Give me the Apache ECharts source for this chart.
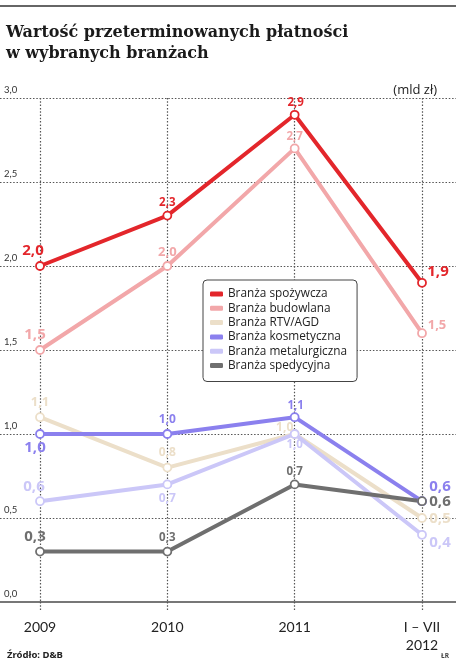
<!DOCTYPE html>
<html><head><meta charset="utf-8">
<script src="https://cdn.jsdelivr.net/npm/echarts@6/dist/echarts.min.js"></script>
<style>html,body{margin:0;padding:0;background:#fff}#c{width:456px;height:668px}</style>
</head><body><div id="c"></div>
<script>
const categories = ['2009', '2010', '2011', 'I – VII\n2012'];
const seriesNames = ['Branża spożywcza', 'Branża budowlana', 'Branża RTV/AGD', 'Branża kosmetyczna', 'Branża metalurgiczna', 'Branża spedycyjna'];
const spozywcza = [2.0, 2.3, 2.9, 1.9];
const budowlana = [1.5, 2.0, 2.7, 1.6];
const rtvAgd = [1.1, 0.8, 1.0, 0.5];
const kosmetyczna = [1.0, 1.0, 1.1, 0.6];
const metalurgiczna = [0.6, 0.7, 1.0, 0.4];
const spedycyjna = [0.3, 0.3, 0.7, 0.6];
const spozywczaLabels = ['2,0', '2,3', '2,9', '1,9'];
const budowlanaLabels = ['1,5', '2,0', '2,7', '1,5'];
const rtvAgdLabels = ['1,1', '0,8', '1,0', '0,5'];
const kosmetycznaLabels = ['1,0', '1,0', '1,1', '0,6'];
const metalurgicznaLabels = ['0,6', '0,7', '1,0', '0,4'];
const spedycyjnaLabels = ['0,3', '0,3', '0,7', '0,6'];
const yTickLabels = ['0,0', '0,5', '1,0', '1,5', '2,0', '2,5', '3,0'];

const colors = ['#e3262b', '#f2a7a9', '#ecdfc9', '#8b80ee', '#cbc7f8', '#6f6f6f'];
// label style per series: [offsetX, offsetY, fontSize] for each point
const labelStyles = [
  [[-7,-15,15],[0,-13,11.5],[1,-12,11.5],[16,-11,15]],
  [[-5,-15,15],[0,-14,13],[0,-12,11.5],[15,-8,13]],
  [[0,-15,13],[0,-15,12],[-10,-6,12],[18,1,15]],
  [[-5,14,15],[0,-14,12],[1,-11,11.5],[18,-14,15]],
  [[-6,-14,15],[0,14,12],[0,11,11.5],[18,8,15]],
  [[-5,-15,15],[0,-14,11.5],[0,-13,11.5],[18,1,15]]
];
const values = [spozywcza, budowlana, rtvAgd, kosmetyczna, metalurgiczna, spedycyjna];
const labels = [spozywczaLabels, budowlanaLabels, rtvAgdLabels, kosmetycznaLabels, metalurgicznaLabels, spedycyjnaLabels];

const chart = echarts.init(document.getElementById('c'), null, {renderer: 'canvas'});
const dotted = {color: '#555', width: 1.2, type: [1.5, 1.8]};

const series = values.map((vals, si) => ({
  name: seriesNames[si],
  type: 'line',
  xAxisIndex: 1,
  yAxisIndex: 1,
  data: vals.map((v, i) => ({
    value: v,
    label: {
      show: true,
      position: 'inside',
      offset: [labelStyles[si][i][0], labelStyles[si][i][1]],
      fontSize: labelStyles[si][i][2],
      color: colors[si],
      fontFamily: 'Open Sans',
      fontWeight: 'bold',
      align: 'center',
      verticalAlign: 'middle',
      formatter: () => labels[si][i]
    }
  })),
  symbol: 'circle',
  symbolSize: 8,
  itemStyle: {color: '#fff', borderColor: colors[si], borderWidth: 1.8},
  lineStyle: {color: colors[si], width: 4},
  emphasis: {disabled: true},
  animation: false
}));

chart.setOption({
  animation: false,
  title: [
    {text: 'Wartość przeterminowanych płatności\nw wybranych branżach', left: 1, top: 17,
     textStyle: {fontFamily: 'DejaVu Serif', fontWeight: 'bold', fontSize: 16, lineHeight: 21, color: '#1a1a1a'}},
    {text: '(mld zł)', right: 14, top: 79, textStyle: {fontFamily: 'Open Sans', fontWeight: 'normal', fontSize: 13, color: '#222'}},
    {text: 'Źródło: D&B', left: 2, top: 645, textStyle: {fontFamily: 'Noto Sans', fontWeight: 'bold', fontSize: 9.5, color: '#222'}},
    {text: 'ŁR', right: 2, top: 648, textStyle: {fontFamily: 'Noto Sans', fontWeight: 'bold', fontSize: 6.5, color: '#444'}}
  ],
  graphic: [{type: 'rect', left: 0, top: 5, shape: {width: 456, height: 2}, style: {fill: '#666'}}],
  legend: {
    orient: 'vertical', left: 203, top: 280,
    padding: [7, 10, 9, 7], itemGap: 0.3,
    itemWidth: 13, itemHeight: 5, icon: 'roundRect',
    backgroundColor: '#fff', borderColor: '#444', borderWidth: 1, borderRadius: 4,
    textStyle: {fontFamily: 'Open Sans', fontSize: 11.8, color: '#222', lineHeight: 14},
    data: seriesNames.map((n, i) => ({name: n, itemStyle: {color: colors[i], borderWidth: 0}, lineStyle: {color: colors[i]}})),
    z: 10
  },
  grid: [
    {left: 0, right: 0, top: 98, bottom: 66, containLabel: false},
    {left: 40, right: 34, top: 98, bottom: 66, containLabel: false}
  ],
  xAxis: [
    {type: 'value', gridIndex: 0, min: 0, max: 1, axisLine: {show: true, onZero: false, lineStyle: {color: '#777', width: 2}},
     axisTick: {show: false}, axisLabel: {show: false}, splitLine: {show: false}},
    {type: 'category', gridIndex: 1, data: categories, boundaryGap: false,
     axisLine: {show: false}, axisTick: {show: true, length: 10, lineStyle: dotted},
     splitLine: {show: true, lineStyle: dotted},
     axisLabel: {margin: 16, fontFamily: 'Lato', fontSize: 14, color: '#222', lineHeight: 18}}
  ],
  yAxis: [
    {type: 'value', gridIndex: 0, min: 0, max: 3, interval: 0.5,
     axisLine: {show: false}, axisTick: {show: false},
     splitLine: {show: true, lineStyle: dotted},
     axisLabel: {inside: true, margin: 4, fontFamily: 'Lato', fontSize: 9.5, color: '#333', verticalAlign: 'bottom', padding: [0, 0, 3, 0],
       formatter: (v) => yTickLabels[Math.round(v / 0.5)]}},
    {type: 'value', gridIndex: 1, min: 0, max: 3, show: false}
  ],
  series: series
});
</script>
</body></html>
